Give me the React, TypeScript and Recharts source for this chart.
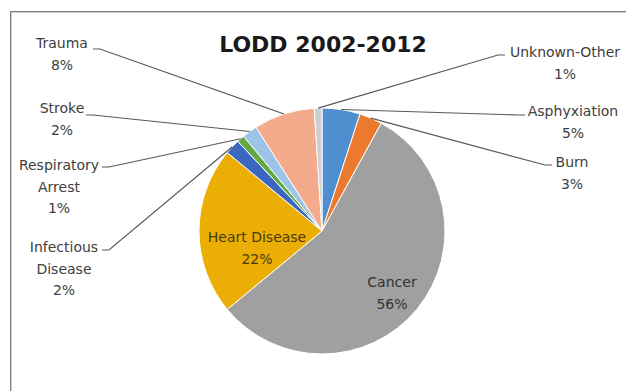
import React from 'react';
import { PieChart, Pie, Cell } from 'recharts';

// LODD 2002-2012, share of deaths by cause (clockwise from 12 o'clock)
const causes = [
  'Asphyxiation',
  'Burn',
  'Cancer',
  'Heart Disease',
  'Infectious Disease',
  'Respiratory Arrest',
  'Stroke',
  'Trauma',
  'Unknown-Other',
];
const shares = [5, 3, 56, 22, 2, 1, 2, 8, 1];
const sliceColors = [
  '#4f8fcf',
  '#ec7a2e',
  '#a0a0a0',
  '#ebae05',
  '#3a67c0',
  '#63a845',
  '#9dc3e6',
  '#f3ab8c',
  '#cdcdcd',
];

const data = causes.map((name, i) => ({ name, value: shares[i] }));

const RADIAN = Math.PI / 180;
const LINE_GAP = 21.5;
const FONT = '"DejaVu Sans", Verdana, sans-serif';

// where the data labels sit (text centre x, first baseline) and where the leader joins them
type Spot = {
  x: number;
  y: number;
  lines: string[];
  ax?: number;
  ay?: number;
  side?: 'left' | 'right';
  color?: string;
};
const spots: Spot[] = [
  { x: 573, y: 116, lines: ['Asphyxiation'], ax: 525, ay: 115, side: 'right' },
  { x: 572, y: 167, lines: ['Burn'], ax: 552, ay: 165, side: 'right' },
  { x: 392, y: 287, lines: ['Cancer'], color: '#333333' },
  { x: 257, y: 242, lines: ['Heart Disease'], color: '#4a3a10' },
  { x: 64, y: 252, lines: ['Infectious', 'Disease'], ax: 102, ay: 250, side: 'left' },
  { x: 59, y: 170, lines: ['Respiratory', 'Arrest'], ax: 102, ay: 167, side: 'left' },
  { x: 62, y: 113, lines: ['Stroke'], ax: 86, ay: 115, side: 'left' },
  { x: 62, y: 48, lines: ['Trauma'], ax: 93, ay: 49, side: 'left' },
  { x: 565, y: 57, lines: ['Unknown-Other'], ax: 505, ay: 55, side: 'right' },
];

const renderLabel = (props: any) => {
  const { cx, cy, midAngle, outerRadius, index } = props;
  const spot = spots[index];
  const rows = [...spot.lines, `${shares[index]}%`];
  let leader = null;
  if (spot.side) {
    const px = cx + outerRadius * Math.cos(-midAngle * RADIAN);
    const py = cy + outerRadius * Math.sin(-midAngle * RADIAN);
    const ex = spot.side === 'left' ? spot.ax! + 7 : spot.ax! - 7;
    leader = (
      <path
        d={`M${spot.ax},${spot.ay}H${ex}L${px},${py}`}
        fill="none"
        stroke="#595959"
        strokeWidth={1.2}
      />
    );
  }
  return (
    <g key={`lbl-${index}`}>
      {leader}
      {rows.map((t, i) => (
        <text
          key={i}
          x={spot.x}
          y={spot.y + i * LINE_GAP}
          textAnchor="middle"
          fontFamily={FONT}
          fontSize={14}
          fill={spot.color || '#404040'}
        >
          {t}
        </text>
      ))}
    </g>
  );
};

export default function App() {
  return (
    <div
      style={{
        position: 'absolute',
        left: 0,
        top: 0,
        width: 626,
        height: 391,
        overflow: 'hidden',
        background: '#fff',
      }}
    >
      <div
        style={{
          position: 'absolute',
          left: 10,
          top: 11,
          width: 700,
          height: 500,
          borderLeft: '1px solid #7f7f7f',
          borderTop: '1px solid #7f7f7f',
          boxShadow: 'inset 1px 1px 0 #cfcfcf',
        }}
      />
      <svg
        width={626}
        height={391}
        style={{ position: 'absolute', left: 0, top: 0 }}
      >
        <text
          x={323}
          y={52}
          textAnchor="middle"
          fontFamily={FONT}
          fontWeight="bold"
          fontSize={22}
          fill="#1a1a1a"
        >
          LODD 2002-2012
        </text>
      </svg>
      <div style={{ position: 'absolute', left: 0, top: 0 }}>
        <PieChart width={626} height={391} margin={{ top: 0, right: 0, bottom: 0, left: 0 }}>
          <Pie
            data={data}
            dataKey="value"
            nameKey="name"
            cx={322}
            cy={231}
            outerRadius={123}
            startAngle={90}
            endAngle={-270}
            stroke="#ffffff"
            strokeWidth={1}
            label={renderLabel}
            labelLine={false}
            isAnimationActive={false}
          >
            {data.map((entry, i) => (
              <Cell key={`cell-${i}`} fill={sliceColors[i]} />
            ))}
          </Pie>
        </PieChart>
      </div>
    </div>
  );
}
